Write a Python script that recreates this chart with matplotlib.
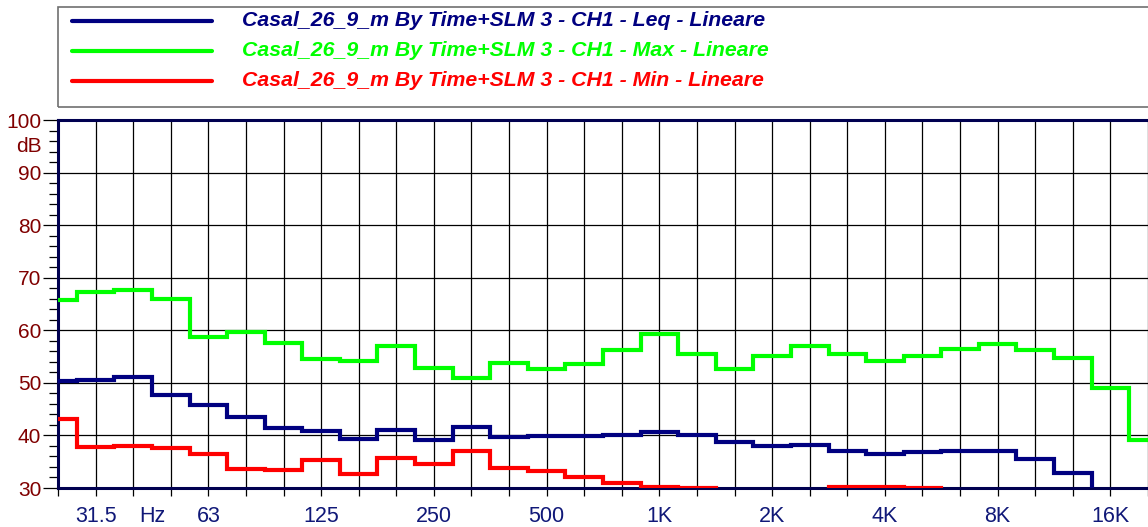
import numpy as np
import matplotlib.pyplot as plt
from matplotlib.patches import Rectangle
from matplotlib.lines import Line2D

plt.rcParams['font.family'] = ['Liberation Sans', 'DejaVu Sans']

# third-octave band centres (Hz)
bands = ['25', '31.5', '40', '50', '63', '80', '100', '125', '160', '200',
         '250', '315', '400', '500', '630', '800', '1K', '1.25K', '1.6K', '2K',
         '2.5K', '3.15K', '4K', '5K', '6.3K', '8K', '10K', '12.5K', '16K', '20K']
shown = ['31.5', '63', '125', '250', '500', '1K', '2K', '4K', '8K', '16K']

# levels in dB (values under 30 are off the bottom of the chart)
leq = [50.3, 50.6, 51.1, 47.7, 45.7, 43.6, 41.4, 40.8, 39.3, 41.0,
       39.2, 41.6, 39.7, 39.8, 39.9, 40.0, 40.6, 40.1, 38.8, 37.9,
       38.1, 37.1, 36.5, 36.8, 37.0, 37.1, 35.5, 32.9, 27.0, 27.0]
lmax = [65.7, 67.3, 67.6, 66.0, 58.7, 59.6, 57.6, 54.6, 54.2, 57.0,
        52.8, 50.9, 53.8, 52.7, 53.5, 56.3, 59.3, 55.5, 52.6, 55.2,
        57.1, 55.4, 54.2, 55.2, 56.4, 57.4, 56.2, 54.8, 49.1, 39.1]
lmin = [43.1, 37.8, 37.9, 37.6, 36.5, 33.6, 33.4, 35.3, 32.6, 35.7,
        34.5, 37.0, 33.8, 33.3, 32.0, 31.0, 30.1, 30.0, 28.0, 28.0,
        28.0, 30.1, 30.2, 30.0, 28.0, 28.0, 28.0, 28.0, 28.0, 28.0]

names = ['Casal_26_9_m By Time+SLM 3 - CH1 - Leq - Lineare',
         'Casal_26_9_m By Time+SLM 3 - CH1 - Max - Lineare',
         'Casal_26_9_m By Time+SLM 3 - CH1 - Min - Lineare']
colors = ['#000080', '#00ff00', '#ff0000']

W, H = 1148, 527
fig = plt.figure(figsize=(W / 100, H / 100), dpi=100)
ax = fig.add_axes([58 / W, 39 / H, 1 - 58 / W, 368 / H])

x = np.arange(len(bands))
edges = np.arange(len(bands) + 1) - 0.5
for vals, c in zip([leq, lmax, lmin], colors):
    ax.stairs(vals, edges, baseline=None, color=c, lw=3, zorder=3)

ax.set_xlim(0, 28.76)
ax.set_ylim(30, 100)

# grid
ax.set_xticks(x)
ax.set_xticklabels([b if b in shown else '' for b in bands])
ax.set_yticks(np.arange(30, 101, 10))
ax.set_yticks(np.arange(30, 101, 2), minor=True)
ax.grid(True, which='major', color='black', lw=0.9)
ax.tick_params(axis='x', direction='out', length=6, width=0.9, color='black',
               labelcolor='#101878', labelsize=15.5, pad=7)
ax.tick_params(axis='y', which='major', direction='out', length=11, width=0.9,
               color='black', labelcolor='#800000', labelsize=15, pad=1)
ax.tick_params(axis='y', which='minor', direction='out', length=6.5, width=0.9,
               color='black')
ax.annotate('Hz', xy=(2.5, 0), xycoords=('data', 'axes fraction'),
            xytext=(0, -13), textcoords='offset points', ha='center',
            va='top', color='#101878', fontsize=15.5)
ax.text(-16 / 1090, 95, 'dB', transform=ax.get_yaxis_transform(), ha='right',
        va='center', color='#800000', fontsize=15)

for s in ['left', 'bottom', 'top']:
    ax.spines[s].set_color('#000050')
    ax.spines[s].set_linewidth(2.2)
ax.spines['right'].set_visible(False)

# legend box
fig.patches.append(Rectangle((58 / W, 1 - 107 / H), 1.0, 100 / H,
                             transform=fig.transFigure, fill=False,
                             edgecolor='#707070', lw=1.2))
for i, (name, c) in enumerate(zip(names, colors)):
    yy = 1 - (21 + 30 * i) / H
    fig.lines.append(Line2D([72 / W, 212 / W], [yy, yy], color=c, lw=3,
                            solid_capstyle='round', transform=fig.transFigure))
    fig.text(242 / W, yy, name, color=c, fontsize=15.3, fontweight='bold',
             fontstyle='italic', va='center', ha='left')

fig.savefig('out.png', dpi=100)
